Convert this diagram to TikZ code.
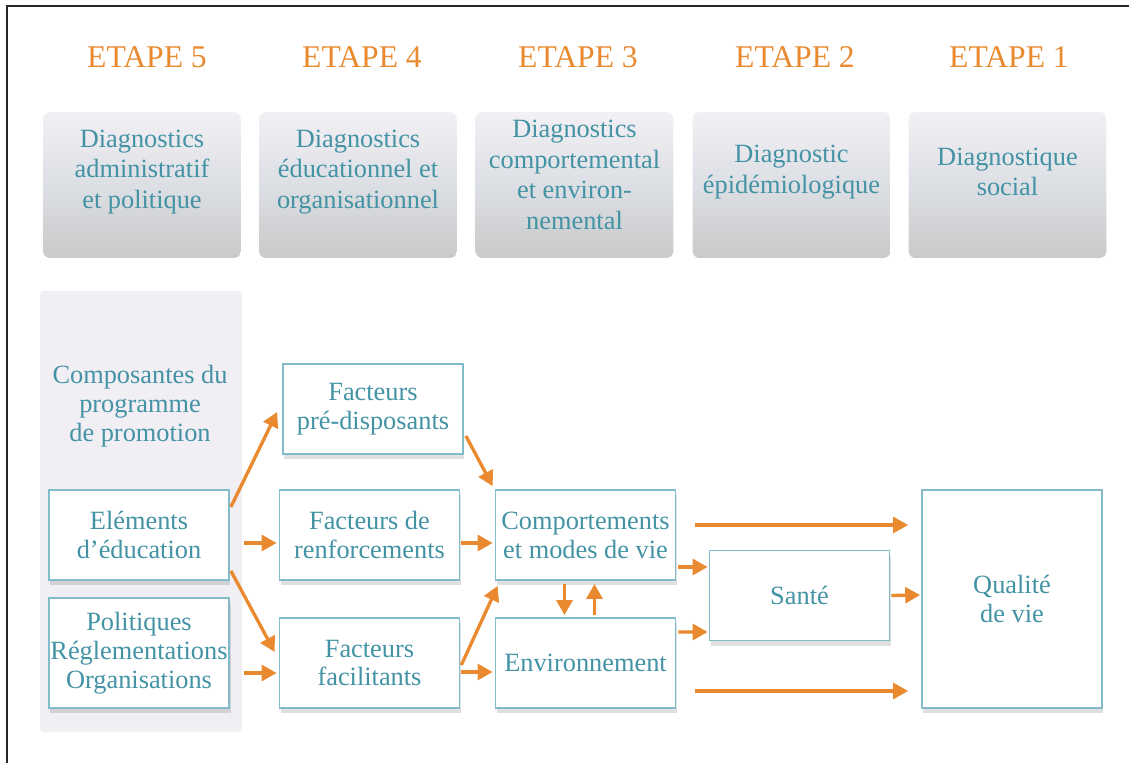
\documentclass[tikz,border=0pt]{standalone}
\usepackage{fontspec}
\setmainfont{Liberation Serif}
\usepackage{xcolor}
\usetikzlibrary{calc,arrows.meta,shadows}
\definecolor{etape}{HTML}{E98A30}
\definecolor{tealtxt}{HTML}{4393A5}
\definecolor{bordr}{HTML}{82BCCB}
\definecolor{panel}{HTML}{F1EEF4}
\definecolor{hdtop}{HTML}{F3F0F5}
\definecolor{hdmid}{HTML}{DCDFE4}
\definecolor{hdbot}{HTML}{C9C9C9}
\tikzset{
  stage/.style={text=etape, font=\fontsize{18}{20}\selectfont},
  headbox/.style={rounded corners=4pt, minimum width=3.96cm, minimum height=2.92cm,
    top color=hdtop, bottom color=hdbot, middle color=hdmid, inner sep=0pt},
  headtxt/.style={text=tealtxt, align=center, font=\fontsize{15}{17.5}\selectfont},
  cbox/.style={draw=bordr, line width=1pt, fill=white, minimum width=3.6cm,
    minimum height=1.8cm, inner sep=1pt, align=center, text=tealtxt,
    font=\fontsize{15}{16.5}\selectfont,
    drop shadow={shadow xshift=0.8pt, shadow yshift=-3pt, fill=black, opacity=0.12}},
  arr/.style={draw=etape, line width=1.9pt, -{Triangle[length=8.5pt,width=9pt]}},
  frame/.style={draw=black!85, line width=1.1pt}
}

\begin{document}
\begin{tikzpicture}[x=0.02cm, y=-0.02cm]
  \useasboundingbox (0,0) rectangle (1129,763);
  \draw[frame] (7,763) -- (7,6) -- (1129,6);

  % stages
  \node[stage] (e5) at (147,57) {ETAPE 5};
  \node[stage] (e4) at (362,57) {ETAPE 4};
  \node[stage] (e3) at (578,57) {ETAPE 3};
  \node[stage] (e2) at (795,57) {ETAPE 2};
  \node[stage] (e1) at (1009,57) {ETAPE 1};

  \node[headbox] (d5) at (142,185) {};
  \node[headbox] (d4) at (358,185) {};
  \node[headbox] (d3) at (574.5,185) {};
  \node[headbox] (d2) at (791.5,185) {};
  \node[headbox] (d1) at (1007.5,185) {};
  \node[headtxt] (t5) at ($(d5)+(0,-13)$) {Diagnostics\\administratif\\et politique};
  \node[headtxt] (t4) at ($(d4)+(0,-13)$) {Diagnostics\\éducationnel et\\organisationnel};
  \node[headtxt] (t3) at ($(d3)+(0,-10)$) {Diagnostics\\comportemental\\et environ-\\nemental};
  \node[headtxt] (t2) at ($(d2)+(0,-13)$) {Diagnostic\\épidémiologique};
  \node[headtxt] (t1) at ($(d1)+(0,-13)$) {Diagnostique\\social};

  % left column
  \fill[panel, rounded corners=2pt] (40,291) rectangle (242,732);
  \node[headtxt, font=\fontsize{15}{16.5}\selectfont] (compo) at (140,406)
    {Composantes du\\programme\\de promotion};
  \node[cbox] (elem) at (139,535) {Eléments\\d’éducation};
  \node[cbox, minimum height=2.2cm] (pol) at (139,653) {Politiques\\Réglementations\\Organisations};

  % factors
  \node[cbox] (pred) at (373,409) {Facteurs\\pré-disposants};
  \node[cbox] (renf) at (369.5,535) {Facteurs de\\renforcements};
  \node[cbox] (faci) at (369.5,663) {Facteurs\\facilitants};

  % behaviour, health, quality of life
  \node[cbox] (comp) at (585.5,535) {Comportements\\et modes de vie};
  \node[cbox] (env) at (585.5,663) {Environnement};
  \node[cbox] (sante) at (799.5,595.5) {Santé};
  \node[cbox, minimum height=4.36cm] (qual) at (1012,599) {Qualité\\de vie};

  % arrows
  \draw[arr] ($(elem.east)+(1,-28)$) -- ($(pred.west)+(-5,3)$);
  \draw[arr] ($(elem.east)+(14,8)$) -- ($(renf.west)+(-2,8)$);
  \draw[arr] ($(elem.south east)+(1,-10)$) -- ($(faci.west)+(-4,-11)$);
  \draw[arr] ($(pol.east)+(14,20)$) -- ($(faci.west)+(-2,10)$);
  \draw[arr] ($(pred.south east)+(2,-19)$) -- ($(comp.north west)+(-2,-3)$);
  \draw[arr] ($(renf.east)+(1,8)$) -- ($(comp.west)+(-2,8)$);
  \draw[arr] ($(faci.east)+(1,2)$) -- ($(comp.south west)+(3,5)$);
  \draw[arr] ($(faci.east)+(1,9)$) -- ($(env.west)+(-2,9)$);
  \draw[arr] ($(comp.south)+(-21,3)$) -- ($(env.north)+(-21,-2)$);
  \draw[arr] ($(env.north)+(9,-2)$) -- ($(comp.south)+(9,3)$);
  \draw[arr] ($(comp.east)+(2,32)$) -- ($(sante.west)+(-1,-28.5)$);
  \draw[arr] ($(env.east)+(2,-31)$) -- ($(sante.west)+(-1,36.5)$);
  \draw[arr] ($(comp.east)+(19,-10)$) -- ($(qual.west)+(-13,-74)$);
  \draw[arr] ($(env.east)+(19,28)$) -- ($(qual.west)+(-13,92)$);
  \draw[arr] ($(sante.east)+(1,0)$) -- ($(qual.west)+(-1,-4)$);
\end{tikzpicture}
\end{document}
